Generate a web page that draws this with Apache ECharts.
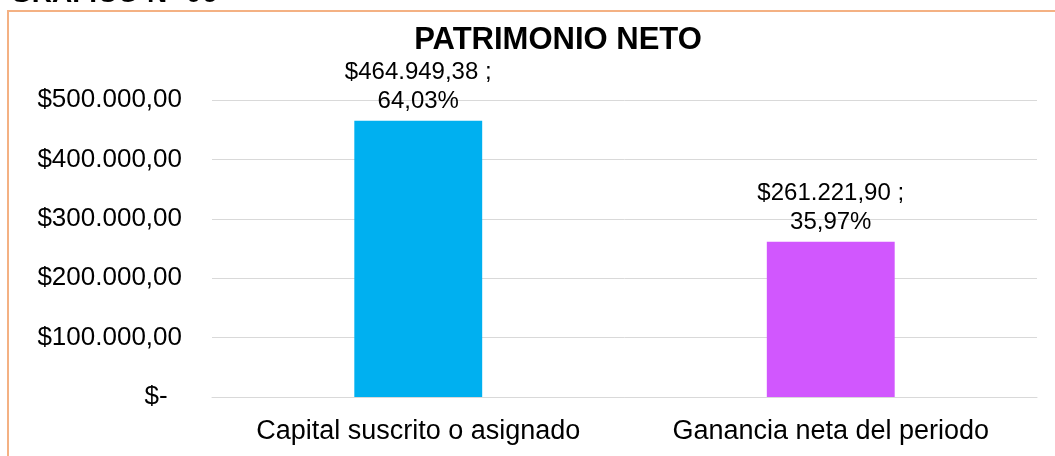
<!DOCTYPE html>
<html>
<head>
<meta charset="utf-8">
<script src="https://cdn.jsdelivr.net/npm/echarts@6/dist/echarts.min.js"></script>
<style>
  html, body { margin: 0; padding: 0; background: #fff; }
  #chart { width: 1055px; height: 456px; }
</style>
</head>
<body>
<div id="chart"></div>
<script>
  // datos del gráfico
  var categories = ['Capital suscrito o asignado', 'Ganancia neta del periodo'];
  var values = [464949.38, 261221.90];
  var percents = ['64,03%', '35,97%'];
  var barColors = ['#00B0F0', '#D157FE'];

  function money(v) {
    if (v === 0) return '$-  ';
    var parts = v.toFixed(2).split('.');
    var ent = parts[0].replace(/\B(?=(\d{3})+(?!\d))/g, '.');
    return '$' + ent + ',' + parts[1];
  }

  var myChart = echarts.init(document.getElementById('chart'));
  var option = {
    backgroundColor: '#fff',
    textStyle: { fontFamily: 'Liberation Sans, Arial, sans-serif' },
    graphic: [{
      type: 'rect',
      shape: { x: 8, y: 11, width: 1100, height: 500 },
      style: { fill: 'none', stroke: '#F4B183', lineWidth: 2 },
      z: 0
    }, {
      type: 'text',
      x: 10,
      y: -6,
      style: {
        text: 'GRÁFICO N° 06', font: 'bold 28px Liberation Sans, Arial', fill: '#000',
        textAlign: 'left', textVerticalAlign: 'middle'
      }
    }, {
      type: 'text',
      x: 558,
      y: 40,
      style: {
        text: 'PATRIMONIO NETO', font: 'bold 31px Liberation Sans, Arial', fill: '#000',
        textAlign: 'center', textVerticalAlign: 'middle'
      }
    }],
    grid: { left: 212, right: 18, top: 100, bottom: 59 },
    xAxis: {
      type: 'category',
      data: categories,
      axisTick: { show: false },
      axisLine: { lineStyle: { color: '#d9d9d9', width: 1 } },
      axisLabel: { color: '#000', fontSize: 27, margin: 21, interval: 0 }
    },
    yAxis: {
      type: 'value',
      min: 0,
      max: 500000,
      interval: 100000,
      splitLine: { lineStyle: { color: '#d9d9d9', width: 1 } },
      axisLine: { show: false },
      axisTick: { show: false },
      axisLabel: { color: '#000', fontSize: 26, margin: 30, formatter: money }
    },
    series: [{
      type: 'bar',
      barWidth: '31%',
      data: values.map(function (v, i) {
        return { value: v, itemStyle: { color: barColors[i] } };
      }),
      label: {
        show: true,
        position: 'top',
        distance: 5,
        color: '#000',
        fontSize: 24,
        lineHeight: 29,
        align: 'center',
        formatter: function (p) {
          return money(p.value) + ' ;\n' + percents[p.dataIndex];
        }
      }
    }]
  };
  myChart.setOption(option);
</script>
</body>
</html>
